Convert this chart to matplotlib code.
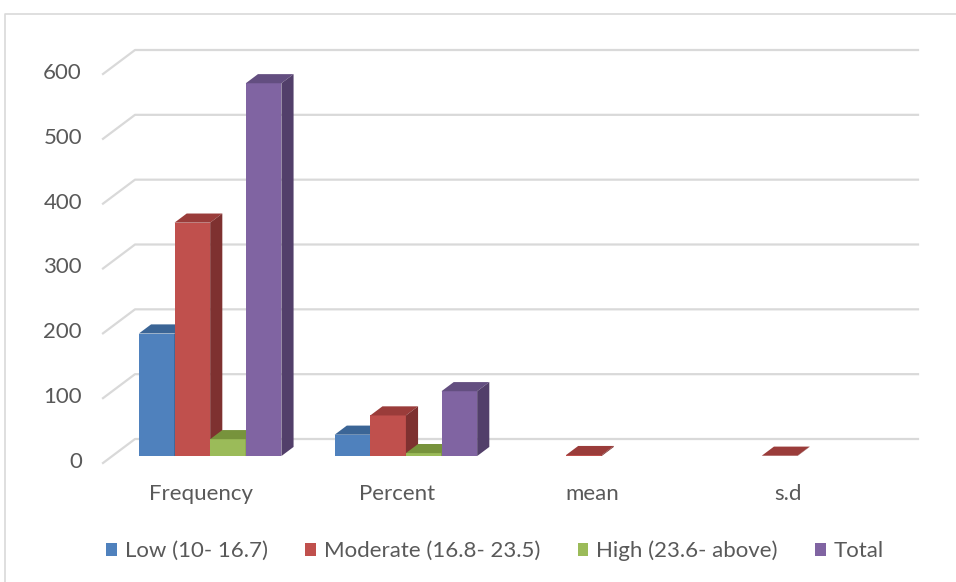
import numpy as np
import matplotlib
matplotlib.use('Agg')
import matplotlib.pyplot as plt
import matplotlib.transforms as mtransforms
from matplotlib.patches import Polygon, Patch
from matplotlib.lines import Line2D

plt.rcParams['font.family'] = ['Lato', 'DejaVu Sans']

categories = ['Frequency', 'Percent', 'mean', 's.d']
series_names = ['Low (10- 16.7)', 'Moderate (16.8- 23.5)', 'High (23.6- above)', 'Total']
low = [189, 32.9, np.nan, np.nan]
moderate = [360, 62.6, 1.5, 0.5]
high = [26, 4.5, np.nan, np.nan]
total = [575, 100, np.nan, np.nan]
y_ticks = [0, 100, 200, 300, 400, 500, 600]

front_colors = ['#4f81bd', '#c0504d', '#9bbb59', '#8064a2']
top_colors = ['#3b6596', '#9a3c3a', '#77933c', '#634e80']
side_colors = ['#2f5078', '#7e3130', '#5f7630', '#523f6a']
grid_color = '#d9d9d9'
text_color = '#595959'

W, H = 956, 582
fig = plt.figure(figsize=(W / 100, H / 100), dpi=100)

# plot area = front plane of the floor, in pixels
x0_px, x1_px = 103, 886
y0_px, y1_px = 463, 74
ax = fig.add_axes([x0_px / W, 1 - y0_px / H, (x1_px - x0_px) / W, (y0_px - y1_px) / H])
ax.set_xlim(-0.5, 3.5)
ax.set_ylim(0, 600)
ax.axis('off')

pix = mtransforms.IdentityTransform()

# oblique depth: full depth moves the point by (32, 24) px
depth_dx, depth_dy = 32, 24


def shifted(d):
    return ax.transData + mtransforms.Affine2D().translate(depth_dx * d, depth_dy * d)


# gridlines: short diagonal on the side wall + line on the back wall
for v in y_ticks:
    p0 = ax.transData.transform((-0.5, v))
    p1 = p0 + np.array([depth_dx, depth_dy])
    p2 = shifted(1).transform((3.5, v))
    ax.add_line(Line2D([p0[0], p1[0], p2[0]], [p0[1], p1[1], p2[1]], color=grid_color,
                       linewidth=1.6, transform=pix, clip_on=False, zorder=1))
    ax.text(p0[0] - 21, p0[1] + 1, f'{v}', transform=pix,
            ha='right', va='center', fontsize=16, color=text_color)

# bars
bar_w = 0.182
d_front, d_back = 0.29, 0.67
all_series = [low, moderate, high, total]
x = np.arange(len(categories))
dd = np.array([depth_dx, depth_dy]) * (d_back - d_front)
for k, vals in enumerate(all_series):
    offs = (k - 1.5) * bar_w
    for i, v in enumerate(vals):
        if np.isnan(v):
            continue
        xl, xr = x[i] + offs - bar_w / 2, x[i] + offs + bar_w / 2
        tf = shifted(d_front)
        pfl0 = tf.transform((xl, 0))
        pfr0 = tf.transform((xr, 0))
        pfl = tf.transform((xl, v))
        pfr = tf.transform((xr, v))
        faces = [
            ([pfl0, pfr0, pfr, pfl], front_colors[k]),
            ([pfl, pfr, pfr + dd, pfl + dd], top_colors[k]),
            ([pfr0, pfr, pfr + dd, pfr0 + dd], side_colors[k]),
        ]
        for pts, col in faces:
            ax.add_patch(Polygon(pts, closed=True, facecolor=col, edgecolor='none',
                                 transform=pix, clip_on=False, zorder=3 + k))

for i, c in enumerate(categories):
    p = ax.transData.transform((x[i], 0))
    ax.text(p[0], p[1] - 31, c, transform=pix,
            ha='center', va='center', fontsize=16, color=text_color)

handles = [Patch(facecolor=c, edgecolor='none') for c in front_colors]
fig.legend(handles, series_names, loc='center', bbox_to_anchor=(495 / W, 1 - 551 / H),
           ncol=4, frameon=False, fontsize=16, labelcolor=text_color,
           handlelength=0.47, handleheight=0.47, handletextpad=0.35, columnspacing=1.7)

# chart frame (left and top edges)
fig.add_artist(Line2D([5 / W, 5 / W, 1], [0, 1 - 14 / H, 1 - 14 / H], color='#d9d9d9',
                      linewidth=1.2, transform=fig.transFigure))

fig.savefig('out.png', dpi=100)
